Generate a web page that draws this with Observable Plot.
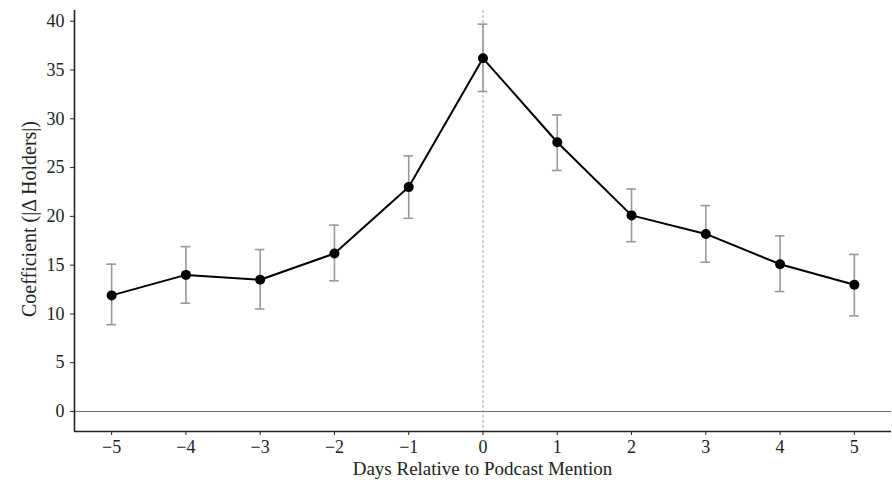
<!DOCTYPE html>
<html>
<head>
<meta charset="utf-8">
<script src="https://cdn.jsdelivr.net/npm/d3@7"></script>
<script src="https://cdn.jsdelivr.net/npm/@observablehq/plot@0.6"></script>
<style>
  html, body { margin: 0; padding: 0; background: #fff; }
  #chart { width: 892px; height: 485px; }
</style>
</head>
<body>
<div id="chart"></div>
<script>
const days = [-5, -4, -3, -2, -1, 0, 1, 2, 3, 4, 5];
const coef = [11.9, 14.0, 13.5, 16.2, 23.0, 36.2, 27.6, 20.1, 18.2, 15.1, 13.0];
const ciLow = [8.9, 11.1, 10.5, 13.4, 19.8, 32.8, 24.7, 17.4, 15.3, 12.3, 9.8];
const ciHigh = [15.1, 16.9, 16.6, 19.1, 26.2, 39.7, 30.4, 22.8, 21.1, 18.0, 16.1];
const xTicks = [-5, -4, -3, -2, -1, 0, 1, 2, 3, 4, 5];
const yTicks = [0, 5, 10, 15, 20, 25, 30, 35, 40];

const data = days.map((d, i) => ({day: d, coef: coef[i], lo: ciLow[i], hi: ciHigh[i]}));
const capHalf = 0.065;
const fmt = d3.format("d");
const font = "Liberation Serif, Times New Roman, serif";

const chart = Plot.plot({
  width: 892,
  height: 485,
  marginLeft: 74,
  marginRight: 1,
  marginTop: 10,
  marginBottom: 54,
  style: {fontFamily: font, fontSize: "18px", color: "#222", background: "#fff"},
  x: {domain: [-5.5, 5.5]},
  y: {domain: [-2.05, 41.1]},
  marks: [
    Plot.ruleY([0], {stroke: "#777", strokeWidth: 1.2}),
    Plot.ruleX([0], {stroke: "#999", strokeWidth: 0.9, strokeDasharray: "3,2"}),
    Plot.ruleX(data, {x: "day", y1: "lo", y2: "hi", stroke: "#999", strokeWidth: 1.6}),
    Plot.ruleY(data, {y: "lo", x1: d => d.day - capHalf, x2: d => d.day + capHalf, stroke: "#999", strokeWidth: 1.6}),
    Plot.ruleY(data, {y: "hi", x1: d => d.day - capHalf, x2: d => d.day + capHalf, stroke: "#999", strokeWidth: 1.6}),
    Plot.line(data, {x: "day", y: "coef", stroke: "#000", strokeWidth: 2}),
    Plot.dot(data, {x: "day", y: "coef", r: 5, fill: "#000", stroke: "none"}),
    Plot.axisX({ticks: xTicks, tickFormat: fmt, tickSize: 4, tickPadding: 5, fontSize: 18,
      label: null}),
    Plot.axisY({ticks: yTicks, tickFormat: fmt, tickSize: 4, tickPadding: 6, fontSize: 18,
      label: null}),
    Plot.ruleX([-5.5], {stroke: "#222", strokeWidth: 1.6}),
    Plot.ruleY([-2.05], {stroke: "#222", strokeWidth: 1.6})
  ]
});
d3.select(chart).selectAll('g[aria-label$="tick label"] text').style("font-size", "18px");

const wrap = document.getElementById("chart");
wrap.appendChild(chart);

const svg = d3.select(chart);
svg.append("text")
  .attr("x", 74 + (892 - 1 - 74) / 2)
  .attr("y", 475)
  .attr("text-anchor", "middle")
  .style("font-family", font)
  .style("font-size", "19px")
  .attr("fill", "#222")
  .text("Days Relative to Podcast Mention");
svg.append("text")
  .attr("transform", `translate(36, 219) rotate(-90)`)
  .attr("text-anchor", "middle")
  .style("font-family", font)
  .style("font-size", "20px")
  .attr("fill", "#222")
  .text("Coefficient (|Δ Holders|)");
</script>
</body>
</html>
